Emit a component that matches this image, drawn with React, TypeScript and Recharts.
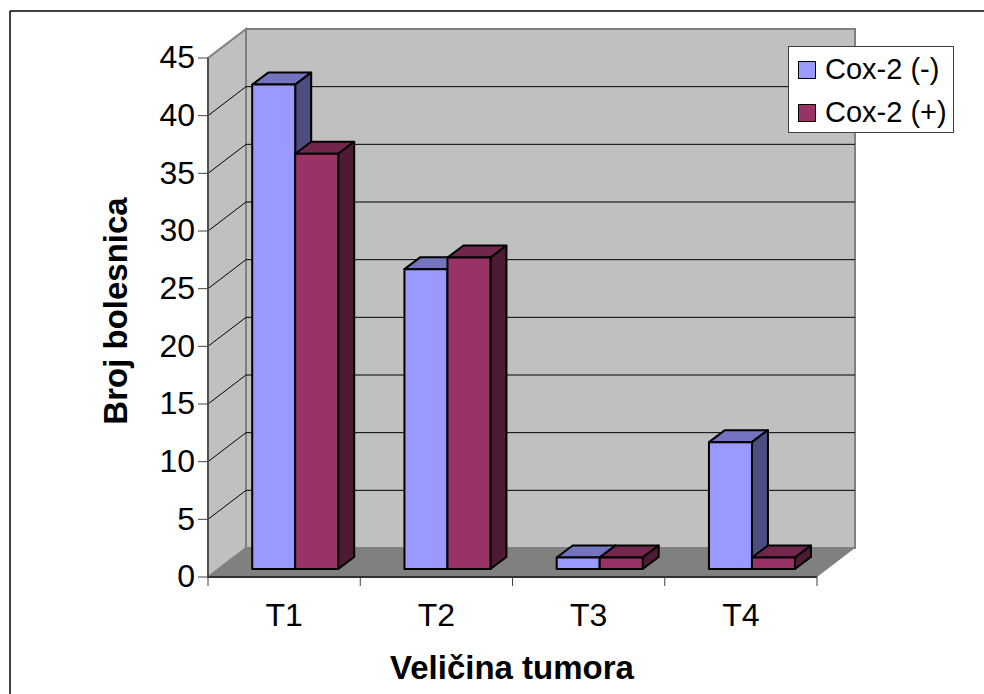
import { Bar, BarChart, CartesianGrid, Legend, XAxis, YAxis } from 'recharts'

const categories = ['T1', 'T2', 'T3', 'T4']
const coxNegative = [42, 26, 1, 11]
const coxPositive = [36, 27, 1, 1]
const yTicks = [0, 5, 10, 15, 20, 25, 30, 35, 40, 45]

const chartData = categories.map((name, i) => ({
  name,
  negative: coxNegative[i],
  positive: coxPositive[i],
}))

const FONT = '"Liberation Sans", Arial, sans-serif'
const LEFT = 208
const RIGHT = 817
const TOP = 58
const BOTTOM = 577
// wall offset of the fake 3D box
const WALL_DX = 38
const WALL_DY = 29
const BAND = (RIGHT - LEFT) / categories.length

const poly = (pts: number[][]) => pts.map((p) => p.join(',')).join(' ')

function Walls() {
  return (
    <g>
      <polygon
        points={poly([[LEFT, BOTTOM], [LEFT, TOP], [LEFT + WALL_DX, TOP - WALL_DY], [LEFT + WALL_DX, BOTTOM - WALL_DY]])}
        fill="#c0c0c0"
        stroke="#808080"
        strokeWidth={2}
      />
      <polygon
        points={poly([[LEFT + WALL_DX, TOP - WALL_DY], [RIGHT + WALL_DX, TOP - WALL_DY], [RIGHT + WALL_DX, BOTTOM - WALL_DY], [LEFT + WALL_DX, BOTTOM - WALL_DY]])}
        fill="#c0c0c0"
        stroke="#808080"
        strokeWidth={2}
      />
      <polygon
        points={poly([[LEFT, BOTTOM], [RIGHT, BOTTOM], [RIGHT + WALL_DX, BOTTOM - WALL_DY], [LEFT + WALL_DX, BOTTOM - WALL_DY]])}
        fill="#808080"
      />
    </g>
  )
}

// one horizontal grid line, bent back along the side wall
function GridLine(props: any) {
  const { x1, x2, y1 } = props
  if (y1 >= BOTTOM - 1 || y1 <= TOP + 1) return <g />
  return (
    <polyline
      points={poly([[x1, y1], [x1 + WALL_DX, y1 - WALL_DY], [x2 + WALL_DX, y1 - WALL_DY]])}
      fill="none"
      stroke="#000"
      strokeWidth={1}
    />
  )
}

function Bar3D(props: any) {
  const { x, y, width, height, fill, top, side } = props
  const fx = x + 11.2
  const fy = y - 8
  const dx = 16
  const dy = 12
  const common = { stroke: '#000', strokeWidth: 2, strokeLinejoin: 'round' as const }
  return (
    <g>
      <polygon
        points={poly([[fx, fy], [fx + dx, fy - dy], [fx + width + dx, fy - dy], [fx + width, fy]])}
        fill={top}
        {...common}
      />
      <polygon
        points={poly([[fx + width, fy], [fx + width + dx, fy - dy], [fx + width + dx, fy + height - dy], [fx + width, fy + height]])}
        fill={side}
        {...common}
      />
      <rect x={fx} y={fy} width={width} height={height} fill={fill} {...common} />
    </g>
  )
}

function CategoryTick(props: any) {
  const { x, payload, index } = props
  return (
    <g>
      <line x1={x - BAND / 2} x2={x - BAND / 2} y1={BOTTOM} y2={BOTTOM + 9} stroke="#404040" strokeWidth={1} />
      {index === categories.length - 1 && (
        <line x1={x + BAND / 2} x2={x + BAND / 2} y1={BOTTOM} y2={BOTTOM + 9} stroke="#404040" strokeWidth={1} />
      )}
      <text x={x} y={626} textAnchor="middle" fontSize={32} fontFamily={FONT} fill="#000">
        {payload.value}
      </text>
    </g>
  )
}

function LegendBox({ payload }: any) {
  return (
    <div
      style={{
        boxSizing: 'border-box',
        width: 166,
        height: 87,
        paddingTop: 1,
        background: '#fff',
        border: '1px solid #404040',
        fontFamily: FONT,
        fontSize: 29,
        color: '#000',
      }}
    >
      {(payload ?? []).map((item: any) => (
        <div key={item.value} style={{ display: 'flex', alignItems: 'center', height: 43, paddingLeft: 9 }}>
          <span
            style={{
              boxSizing: 'border-box',
              display: 'inline-block',
              width: 18,
              height: 18,
              background: item.color,
              border: '1px solid #000',
              marginRight: 9,
            }}
          />
          <span style={{ whiteSpace: 'nowrap' }}>{item.value}</span>
        </div>
      ))}
    </div>
  )
}

export default function App() {
  return (
    <div style={{ position: 'absolute', left: 0, top: 0, width: 984, height: 694, background: '#fff', overflow: 'hidden' }}>
      <BarChart
        width={984}
        height={694}
        data={chartData}
        margin={{ left: LEFT - 70, right: 984 - RIGHT, top: TOP, bottom: 694 - BOTTOM - 40 }}
        barCategoryGap={33}
        barGap={0}
      >
        <line x1={10} x2={984} y1={11} y2={11} stroke="#000" strokeWidth={1.5} />
        <line x1={10} x2={10} y1={11} y2={694} stroke="#000" strokeWidth={1.5} />
        <Walls />
        <CartesianGrid zIndex={100} vertical={false} horizontal={(p: any) => <GridLine key={p.key} {...p} />} />
        <XAxis
          dataKey="name"
          height={40}
          tick={CategoryTick}
          tickLine={false}
          axisLine={{ stroke: '#303030', strokeWidth: 2 }}
          interval={0}
        />
        <YAxis
          width={70}
          domain={[0, 45]}
          ticks={yTicks}
          interval={0}
          tick={{ fontSize: 32, fontFamily: FONT, fill: '#000', dy: -1 }}
          tickSize={10}
          tickMargin={3}
          tickLine={{ stroke: '#404040' }}
          axisLine={{ stroke: '#505050', strokeWidth: 2 }}
        />
        <Bar
          dataKey="negative"
          name="Cox-2 (-)"
          fill="#9999ff"
          isAnimationActive={false}
          shape={(p: any) => <Bar3D {...p} fill="#9999ff" top="#7373bf" side="#4d4d80" />}
        />
        <Bar
          dataKey="positive"
          name="Cox-2 (+)"
          fill="#993366"
          isAnimationActive={false}
          shape={(p: any) => <Bar3D {...p} fill="#993366" top="#73264d" side="#4d1933" />}
        />
        <Legend
          layout="vertical"
          align="center"
          verticalAlign="middle"
          itemSorter={null}
          content={LegendBox}
          wrapperStyle={{ left: 788, top: 46, width: 166, height: 87 }}
        />
        <text x={512} y={679} textAnchor="middle" fontSize={33} fontWeight="bold" fontFamily={FONT} fill="#000">
          Veličina tumora
        </text>
        <text
          transform="translate(127,311) rotate(-90)"
          textAnchor="middle"
          fontSize={33}
          fontWeight="bold"
          fontFamily={FONT}
          fill="#000"
        >
          Broj bolesnica
        </text>
      </BarChart>
    </div>
  )
}
